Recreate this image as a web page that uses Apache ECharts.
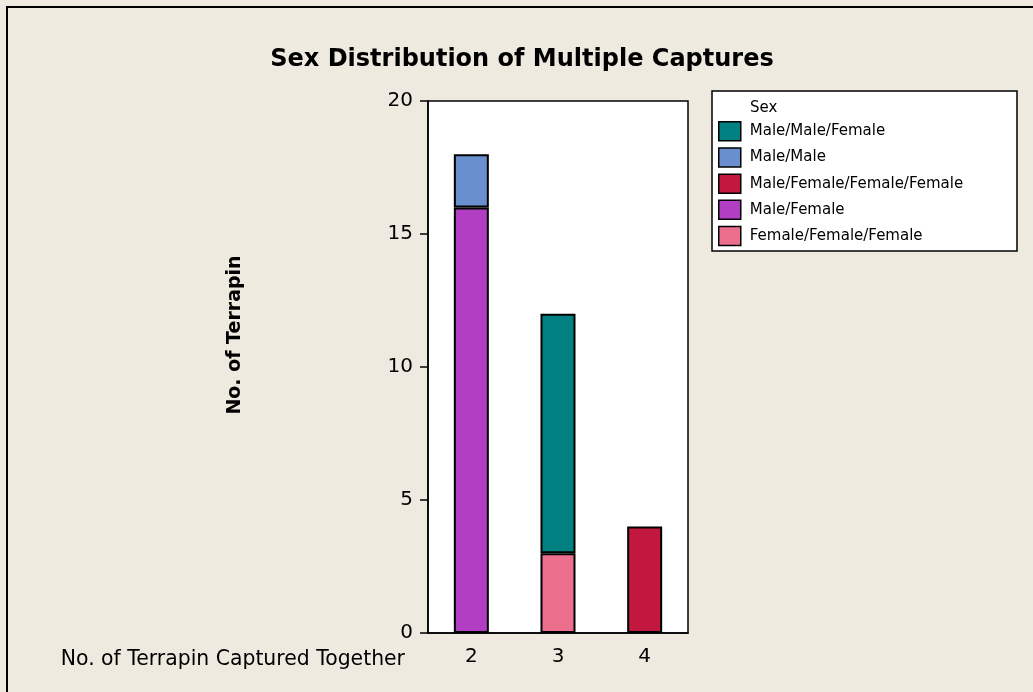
<!DOCTYPE html>
<html>
<head>
<meta charset="utf-8">
<script src="https://cdn.jsdelivr.net/npm/echarts@6/dist/echarts.min.js"></script>
<style>
  html, body { margin: 0; padding: 0; background: #EEEAE0; }
  #chart { width: 1033px; height: 692px; }
</style>
</head>
<body>
<div id="chart"></div>
<script>
var categories = ['2', '3', '4'];
var yTicks = [0, 5, 10, 15, 20];

// stacked bottom-up
var femaleFemaleFemale = [0, 3, 0];
var maleFemale = [16, 0, 0];
var maleFemaleFemaleFemale = [0, 0, 4];
var maleMale = [2, 0, 0];
var maleMaleFemale = [0, 9, 0];

var legendOrder = [
  'Male/Male/Female',
  'Male/Male',
  'Male/Female/Female/Female',
  'Male/Female',
  'Female/Female/Female'
];

var font = '"DejaVu Sans", Verdana, sans-serif';

var chartDom = document.getElementById('chart');
var chart = echarts.init(chartDom);

function makeSeries(name, data, color) {
  return {
    name: name,
    type: 'bar',
    stack: 'total',
    barWidth: 35,
    data: data.map(function (v) { return v === 0 ? null : v; }),
    itemStyle: {
      color: color,
      borderColor: '#000',
      borderWidth: 2
    }
  };
}

var option = {
  backgroundColor: '#EEEAE0',
  animation: false,
  title: {
    text: 'Sex Distribution of Multiple Captures',
    left: 517,
    textAlign: 'center',
    top: 43,
    textStyle: { fontFamily: font, fontSize: 24, fontWeight: 'bold', color: '#000' }
  },
  grid: {
    left: 428,
    top: 101,
    width: 260,
    height: 532,
    show: true,
    backgroundColor: '#fff',
    borderColor: '#000',
    borderWidth: 1.5
  },
  legend: {
    orient: 'vertical',
    left: 713,
    top: 116,
    itemWidth: 22,
    itemHeight: 19,
    itemGap: 5.7,
    icon: 'rect',
    data: legendOrder,
    itemStyle: { borderColor: '#000', borderWidth: 1.5 },
    textStyle: { fontFamily: font, fontSize: 15, lineHeight: 19, color: '#000', padding: [0, 0, 0, 4] }
  },
  xAxis: {
    type: 'category',
    data: categories,
    axisLine: { lineStyle: { color: '#000', width: 1.5 } },
    axisTick: { alignWithLabel: true, length: 8, lineStyle: { color: '#000', width: 1.5 } },
    axisLabel: { fontFamily: font, fontSize: 20, color: '#000', margin: 14 }
  },
  yAxis: {
    type: 'value',
    min: yTicks[0],
    max: yTicks[yTicks.length - 1],
    interval: 5,
    splitLine: { show: false },
    axisLine: { show: true, lineStyle: { color: '#000', width: 1.5 } },
    axisTick: { show: true, length: 8, lineStyle: { color: '#000', width: 1.5 } },
    axisLabel: { fontFamily: font, fontSize: 20, color: '#000', margin: 15 }
  },
  graphic: [
    {
      type: 'polyline',
      shape: { points: [[7, 692], [7, 7], [1033, 7]] },
      style: { stroke: '#000', lineWidth: 2, fill: null }
    },
    {
      type: 'rect',
      z: -1,
      shape: { x: 712, y: 91, width: 305, height: 160 },
      style: { fill: '#fff', stroke: '#000', lineWidth: 1.5 }
    },
    {
      type: 'text',
      x: 750,
      y: 108,
      style: { text: 'Sex', font: '15px ' + font, fill: '#000', verticalAlign: 'middle' }
    },
    {
      type: 'text',
      x: 235,
      y: 335,
      rotation: Math.PI / 2,
      style: {
        text: 'No. of Terrapin',
        font: 'bold 19px ' + font,
        fill: '#000',
        align: 'center',
        verticalAlign: 'middle'
      }
    },
    {
      type: 'text',
      x: 405,
      y: 660,
      style: {
        text: 'No. of Terrapin Captured Together',
        font: '20.4px ' + font,
        fill: '#000',
        align: 'right',
        verticalAlign: 'middle'
      }
    }
  ],
  series: [
    makeSeries('Female/Female/Female', femaleFemaleFemale, '#EC6F8E'),
    makeSeries('Male/Female', maleFemale, '#B23EC4'),
    makeSeries('Male/Female/Female/Female', maleFemaleFemaleFemale, '#C2173F'),
    makeSeries('Male/Male', maleMale, '#6A8FCF'),
    makeSeries('Male/Male/Female', maleMaleFemale, '#008080')
  ]
};

chart.setOption(option);
</script>
</body>
</html>
